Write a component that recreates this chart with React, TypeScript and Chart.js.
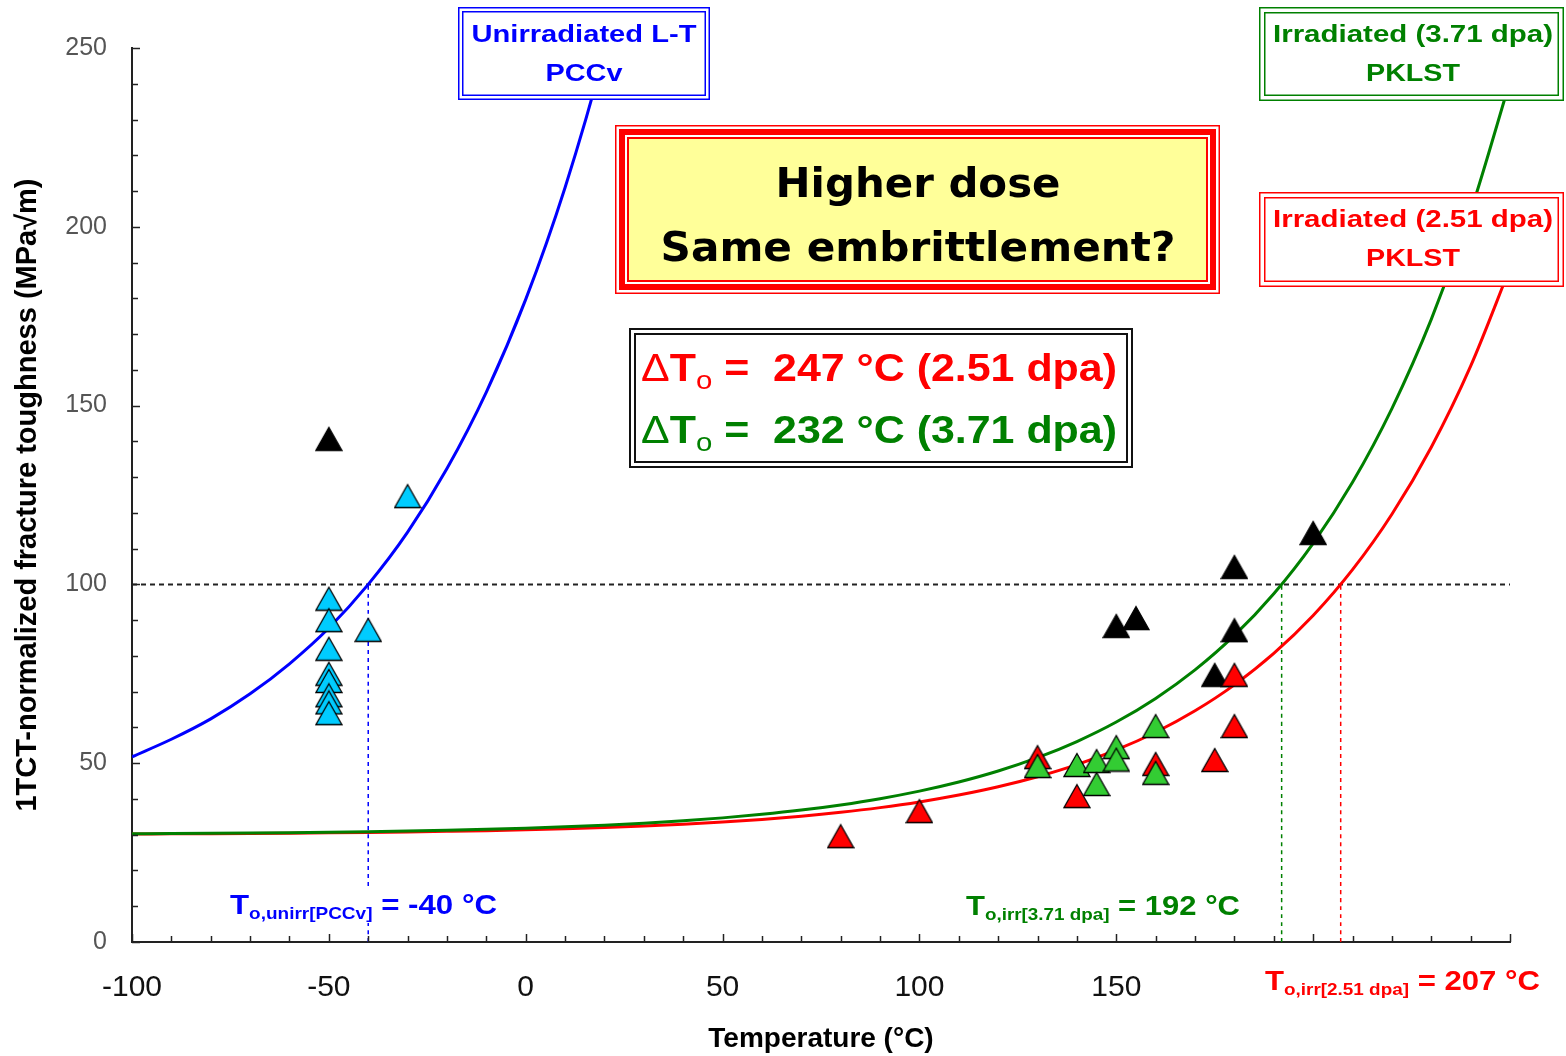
import React, { useEffect, useRef } from 'react';
import { Chart, registerables } from 'chart.js';

Chart.register(...registerables);

// ---- Master curves (temperature °C -> K_Jc MPa√m) ----
const CURVE_T = [-100, -90, -80, -70, -60, -50, -40, -30, -20, -10, 0, 10, 20, 30, 40, 50, 60, 70, 80, 90, 100, 110, 120, 130, 140, 150, 160, 170, 180, 190, 200, 210, 220, 230, 240, 250];
const UNIRR_CURVE_T = [-100, -90, -80, -70, -60, -50, -40, -30, -20, -10, 0, 10, 20, 30];
const UNIRR_CURVE_K = [51.8, 56.7, 62.4, 69.4, 77.8, 87.8, 100.0, 114.6, 132.4, 153.8, 179.7, 211.0, 248.9, 294.7];
const IRR371_CURVE_K = [30.27, 30.33, 30.40, 30.48, 30.58, 30.70, 30.85, 31.03, 31.25, 31.51, 31.82, 32.20, 32.67, 33.22, 33.90, 34.71, 35.70, 36.89, 38.34, 40.08, 42.19, 44.74, 47.82, 51.55, 56.06, 61.51, 68.11, 76.09, 85.73, 97.39, 111.49, 128.55, 149.17, 174.10, 204.25, 240.71];
const IRR251_CURVE_K = [30.20, 30.25, 30.30, 30.36, 30.44, 30.53, 30.64, 30.77, 30.94, 31.13, 31.37, 31.66, 32.00, 32.42, 32.93, 33.54, 34.29, 35.18, 36.27, 37.58, 39.16, 41.08, 43.40, 46.21, 49.60, 53.70, 58.66, 64.66, 71.91, 80.68, 91.29, 104.11, 119.61, 138.37, 161.04, 188.46];

// ---- Test data ----
const PCCV_T = [-50, -50, -50, -50, -50, -50, -50, -50, -40, -30];
const PCCV_K = [96, 90, 82, 75, 73, 69, 67, 64, 87.3, 124.7];
const BLACK_T = [-50, 150, 155, 175, 180, 180, 200];
const BLACK_K = [140.7, 88.4, 90.6, 74.7, 104.9, 87.2, 114.4];
const IRR251_T = [80, 100, 130, 140, 160, 175, 180, 180];
const IRR251_K = [29.6, 36.6, 51.7, 40.8, 49.8, 50.9, 74.7, 60.4];
const IRR371_T = [130, 140, 145, 145, 150, 150, 160, 160];
const IRR371_K = [49.2, 49.5, 50.6, 44.2, 54.5, 51.0, 60.4, 47.3];

// ---- Reference temperatures / levels ----
const T0_VALUES = [-40, 192, 207];
const T0_COLORS = ['#0000ff', '#008000', '#ff0000'];
const REF_K = 100;
const X_RANGE = [-100, 250];
const Y_RANGE = [0, 250];

const pts = (xs: number[], ys: number[]) => xs.map((x, i) => ({ x, y: ys[i] }));

function triangleImage(fill: string): HTMLCanvasElement {
  const c = document.createElement('canvas');
  c.width = 28;
  c.height = 26;
  const g = c.getContext('2d')!;
  g.beginPath();
  g.moveTo(14, 1.5);
  g.lineTo(27, 24.5);
  g.lineTo(1, 24.5);
  g.closePath();
  g.fillStyle = fill;
  g.fill();
  g.strokeStyle = '#000';
  g.lineWidth = 1.3;
  g.stroke();
  return c;
}

type Run = { t: string; font: string; dy?: number };

function drawRich(ctx: CanvasRenderingContext2D, runs: Run[], x: number, baseline: number, align: 'left' | 'center', color: string, targetW?: number) {
  const widths = runs.map((r) => {
    ctx.font = r.font;
    return ctx.measureText(r.t).width;
  });
  const total = widths.reduce((a, b) => a + b, 0);
  const s = targetW ? targetW / total : 1;
  const startX = align === 'center' ? x - (total * s) / 2 : x;
  ctx.save();
  ctx.translate(startX, baseline);
  ctx.scale(s, 1);
  ctx.textAlign = 'left';
  ctx.textBaseline = 'alphabetic';
  ctx.fillStyle = color;
  let cx = 0;
  runs.forEach((r, i) => {
    ctx.font = r.font;
    ctx.fillText(r.t, cx, r.dy || 0);
    cx += widths[i];
  });
  ctx.restore();
}

function doubleBox(ctx: CanvasRenderingContext2D, x: number, y: number, w: number, h: number, color: string, gap: number, lw: number) {
  ctx.fillStyle = '#ffffff';
  ctx.fillRect(x, y, w, h);
  ctx.strokeStyle = color;
  ctx.lineWidth = lw;
  ctx.strokeRect(x + lw / 2, y + lw / 2, w - lw, h - lw);
  ctx.strokeRect(x + gap + lw / 2, y + gap + lw / 2, w - 2 * gap - lw, h - 2 * gap - lw);
}

const annotationPlugin = {
  id: 'annotations',
  afterDraw(chart: any) {
    const ctx: CanvasRenderingContext2D = chart.ctx;
    const xs = chart.scales.x;
    const ys = chart.scales.y;
    ctx.save();
    // inward tick marks
    ctx.strokeStyle = '#222';
    ctx.lineWidth = 1.5;
    const bottom = ys.getPixelForValue(Y_RANGE[0]);
    const left = xs.getPixelForValue(X_RANGE[0]);
    for (let v = X_RANGE[0]; v <= X_RANGE[1]; v += 10) {
      const p = Math.round(xs.getPixelForValue(v)) + 0.5;
      ctx.beginPath();
      ctx.moveTo(p, bottom);
      ctx.lineTo(p, bottom - (v % 50 === 0 ? 8 : 6));
      ctx.stroke();
    }
    for (let v = Y_RANGE[0]; v <= Y_RANGE[1]; v += 10) {
      const p = Math.round(ys.getPixelForValue(v)) + 0.5;
      ctx.beginPath();
      ctx.moveTo(left, p);
      ctx.lineTo(left + (v % 50 === 0 ? 8 : 6), p);
      ctx.stroke();
    }

    const SANS = '"Liberation Sans", Arial, sans-serif';
    // Series label boxes
    doubleBox(ctx, 458, 7, 252, 93, '#0000ff', 4, 1.5);
    drawRich(ctx, [{ t: 'Unirradiated L-T', font: `bold 23px ${SANS}` }], 584, 42, 'center', '#0000ff', 225);
    drawRich(ctx, [{ t: 'PCCv', font: `bold 23px ${SANS}` }], 584, 81, 'center', '#0000ff', 77);

    doubleBox(ctx, 1259, 7, 305, 94, '#008000', 5, 1.5);
    drawRich(ctx, [{ t: 'Irradiated (3.71 dpa)', font: `bold 23px ${SANS}` }], 1413, 42, 'center', '#008000', 280);
    drawRich(ctx, [{ t: 'PKLST', font: `bold 23px ${SANS}` }], 1413, 81, 'center', '#008000', 94);

    doubleBox(ctx, 1259, 192, 305, 95, '#ff0000', 5, 1.5);
    drawRich(ctx, [{ t: 'Irradiated (2.51 dpa)', font: `bold 23px ${SANS}` }], 1413, 227, 'center', '#ff0000', 280);
    drawRich(ctx, [{ t: 'PKLST', font: `bold 23px ${SANS}` }], 1413, 266, 'center', '#ff0000', 94);

    // Yellow question box
    const bx = 615, by = 125, bw = 605, bh = 169;
    ctx.fillStyle = '#ffffff';
    ctx.fillRect(bx, by, bw, bh);
    ctx.strokeStyle = '#ff0000';
    ctx.lineWidth = 1.5;
    ctx.strokeRect(bx + 0.75, by + 0.75, bw - 1.5, bh - 1.5);
    ctx.fillStyle = '#ff0000';
    ctx.fillRect(bx + 4, by + 4, bw - 8, bh - 8);
    ctx.fillStyle = '#ffffff';
    ctx.fillRect(bx + 10, by + 10, bw - 20, bh - 20);
    ctx.fillStyle = '#ff0000';
    ctx.fillRect(bx + 12, by + 12, bw - 24, bh - 24);
    ctx.fillStyle = '#ffff99';
    ctx.fillRect(bx + 14, by + 14, bw - 28, bh - 28);
    const DV = '"DejaVu Sans", Verdana, sans-serif';
    drawRich(ctx, [{ t: 'Higher dose', font: `bold 40px ${DV}` }], 918, 197, 'center', '#000', 285);
    drawRich(ctx, [{ t: 'Same embrittlement?', font: `bold 40px ${DV}` }], 918, 261, 'center', '#000', 515);

    // ΔT box
    doubleBox(ctx, 629, 328, 504, 140, '#111', 5, 2);
    const dRuns = (rest: string): Run[] => [
      { t: 'Δ', font: `38px ${SANS}` },
      { t: 'T', font: `bold 38px ${SANS}` },
      { t: 'o', font: `26px ${SANS}`, dy: 8 },
      { t: rest, font: `bold 38px ${SANS}` },
    ];
    drawRich(ctx, dRuns(' =  247 °C (2.51 dpa)'), 641, 381, 'left', '#ff0000', 476);
    drawRich(ctx, dRuns(' =  232 °C (3.71 dpa)'), 641, 443, 'left', '#008000', 476);

    // T0 labels
    const tRuns = (sub: string, rest: string): Run[] => [
      { t: 'T', font: `bold 28px ${SANS}` },
      { t: sub, font: `bold 17px ${SANS}`, dy: 5 },
      { t: rest, font: `bold 28px ${SANS}` },
    ];
    ctx.fillStyle = '#ffffff';
    ctx.fillRect(228, 889, 272, 34);
    drawRich(ctx, tRuns('o,unirr[PCCv]', ' = -40 °C'), 230, 914, 'left', '#0000ff', 267);
    drawRich(ctx, tRuns('o,irr[3.71 dpa]', ' = 192 °C'), 966, 915, 'left', '#008000', 274);
    ctx.fillStyle = '#ffffff';
    ctx.fillRect(1262, 962, 290, 38);
    drawRich(ctx, tRuns('o,irr[2.51 dpa]', ' = 207 °C'), 1265, 990, 'left', '#ff0000', 275);
    ctx.restore();
  },
};

export default function App() {
  const ref = useRef<HTMLCanvasElement | null>(null);
  useEffect(() => {
    if (!ref.current) return;
    const tri = {
      cyan: triangleImage('#00ccff'),
      black: triangleImage('#000000'),
      red: triangleImage('#ff0000'),
      green: triangleImage('#33cc33'),
    };
    const lineDs = (label: string, data: any[], color: string, width: number, order: number, dash: number[] = []) => ({
      type: 'line' as const,
      label,
      data,
      borderColor: color,
      backgroundColor: color,
      borderWidth: width,
      borderDash: dash,
      pointRadius: 0,
      fill: false,
      showLine: true,
      cubicInterpolationMode: 'monotone' as const,
      order,
    });
    const scatterDs = (label: string, data: any[], img: HTMLCanvasElement, order: number) => ({
      type: 'scatter' as const,
      label,
      data,
      pointStyle: img,
      pointRadius: 13,
      showLine: false,
      order,
      clip: false as const,
    });

    const datasets: any[] = [
      scatterDs('Irradiated 3.71 dpa', pts(IRR371_T, IRR371_K), tri.green, 1),
      scatterDs('Irradiated 2.51 dpa', pts(IRR251_T, IRR251_K), tri.red, 2),
      scatterDs('Other', pts(BLACK_T, BLACK_K), tri.black, 3),
      scatterDs('Unirradiated PCCv', pts(PCCV_T, PCCV_K), tri.cyan, 4),
      lineDs('MC 3.71 dpa', pts(CURVE_T, IRR371_CURVE_K), '#008000', 3, 5),
      lineDs('MC 2.51 dpa', pts(CURVE_T, IRR251_CURVE_K), '#ff0000', 3, 6),
      lineDs('MC unirradiated', pts(UNIRR_CURVE_T, UNIRR_CURVE_K), '#0000ff', 3, 7),
      lineDs('100 MPa√m', [{ x: X_RANGE[0], y: REF_K }, { x: X_RANGE[1], y: REF_K }], '#222222', 2, 8, [5, 4]),
      ...T0_VALUES.map((t, i) => lineDs('T0', [{ x: t, y: Y_RANGE[0] }, { x: t, y: REF_K }], T0_COLORS[i], 1.5, 9 + i, [4, 4])),
    ];

    const chart = new Chart(ref.current, {
      type: 'scatter',
      data: { datasets },
      plugins: [annotationPlugin],
      options: {
        animation: false,
        responsive: false,
        events: [],
        layout: { padding: { left: 0, right: 56, top: 48, bottom: 0 } },
        plugins: { legend: { display: false }, tooltip: { enabled: false } },
        scales: {
          x: {
            type: 'linear',
            min: X_RANGE[0],
            max: X_RANGE[1],
            afterFit: (s: any) => { s.height = 114; },
            grid: { display: false, drawTicks: false },
            border: { display: true, color: '#222', width: 2 },
            ticks: {
              stepSize: 10,
              autoSkip: false,
              maxRotation: 0,
              padding: 28,
              color: '#111',
              font: { family: '"Liberation Sans Narrow", "Liberation Sans", Arial', size: 30 },
              callback: (v: any) => (Number(v) % 50 === 0 && Number(v) < 200 ? String(v) : ''),
            },
            title: {
              display: true,
              text: 'Temperature (°C)',
              color: '#000',
              font: { family: '"Liberation Sans", Arial', size: 28, weight: 'bold' },
              padding: { top: 0, bottom: 0 },
            },
          },
          y: {
            type: 'linear',
            min: Y_RANGE[0],
            max: Y_RANGE[1],
            afterFit: (s: any) => { s.width = 132; },
            grid: { display: false, drawTicks: false },
            border: { display: true, color: '#222', width: 2 },
            ticks: {
              stepSize: 10,
              autoSkip: false,
              padding: 25,
              color: '#555',
              font: { family: '"Liberation Sans", Arial', size: 25 },
              callback: (v: any) => (Number(v) % 50 === 0 ? String(v) : ''),
            },
            title: {
              display: true,
              text: '1TCT-normalized fracture toughness (MPa√m)',
              color: '#000',
              font: { family: '"Liberation Sans", Arial', size: 29, weight: 'bold' },
              padding: { top: 11, bottom: 0 },
            },
          },
        },
      },
    } as any);
    return () => chart.destroy();
  }, []);

  return (
    <div style={{ position: 'fixed', left: 0, top: 0, width: 1566, height: 1056, background: '#fff' }}>
      <canvas ref={ref} width={1566} height={1056} style={{ width: 1566, height: 1056, display: 'block' }} />
    </div>
  );
}
